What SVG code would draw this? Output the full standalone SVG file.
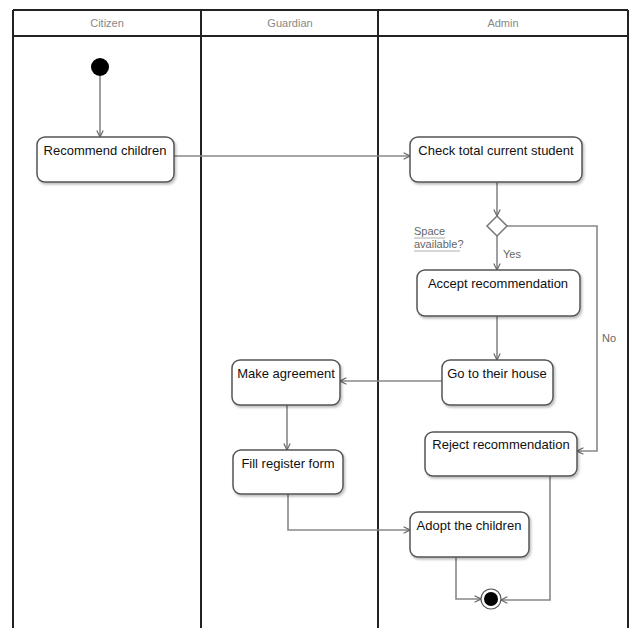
<svg xmlns="http://www.w3.org/2000/svg" width="640" height="640" viewBox="0 0 640 640">
  <style>
    .lane { stroke: #222; stroke-width: 2; fill: none; }
    .head { font-family: "Liberation Sans", Arial, sans-serif; font-size: 11px; fill: #888; text-anchor: middle; }
    .act rect { fill: #fff; stroke: #555; stroke-width: 1.5; }
    .act text { font-family: "Liberation Sans", Arial, sans-serif; font-size: 13px; fill: #111; text-anchor: middle; }
    .edge { stroke: #888; stroke-width: 1.6; fill: none; marker-end: url(#arr); }
    .lbl { font-family: "Liberation Sans", Arial, sans-serif; font-size: 11px; fill: #666; }
  </style>
  <defs>
    <marker id="arr" viewBox="0 0 10 10" refX="9" refY="5" markerWidth="8" markerHeight="8" markerUnits="userSpaceOnUse" orient="auto">
      <path d="M1,1 L9,5 L1,9" fill="none" stroke="#666" stroke-width="1.5"/>
    </marker>
    <filter id="sh" x="-10%" y="-10%" width="125%" height="130%">
      <feDropShadow dx="1.5" dy="2" stdDeviation="1" flood-color="#000" flood-opacity="0.25"/>
    </filter>
  </defs>
  <rect width="640" height="640" fill="#fff"/>

  <!-- swimlanes -->
  <g id="lanes">
    <path class="lane" d="M13,10 H628 M13,36 H628 M13,10 V628 M201,10 V628 M378,10 V628 M628,10 V628"/>
    <text class="head" x="107" y="27">Citizen</text>
    <text class="head" x="290" y="27">Guardian</text>
    <text class="head" x="503" y="27">Admin</text>
  </g>

  <!-- connectors -->
  <g id="connectors">
    <path class="edge" d="M100,76 V137"/>
    <path class="edge" d="M174,156 H410"/>
    <path class="edge" d="M497,182 V216"/>
    <path class="edge" d="M497,236 V270"/>
    <path class="edge" d="M497,316 V360"/>
    <path class="edge" d="M442,381 H340"/>
    <path class="edge" d="M287,405 V450"/>
    <path class="edge" d="M288,494 V530 H410"/>
    <path class="edge" d="M456,557 V599 H481"/>
    <path class="edge" d="M506,226 H597 V451 H577"/>
    <path class="edge" d="M550,476 V600 H501"/>
    <text class="lbl" x="414" y="235">Space</text>
    <text class="lbl" x="414" y="248">available?</text>
    <path d="M414,238 H445 M414,251 H460" stroke="#999" stroke-width="0.8"/>
    <text class="lbl" x="503" y="258">Yes</text>
    <text class="lbl" x="602" y="342">No</text>
  </g>

  <!-- start -->
  <g id="start">
    <circle cx="100" cy="67" r="9" fill="#000"/>
  </g>

  <g id="recommend" class="act">
    <rect x="37" y="137" width="137" height="45" rx="8" filter="url(#sh)"/>
    <text x="105" y="155">Recommend children</text>
  </g>

  <g id="check" class="act">
    <rect x="410" y="137" width="172" height="45" rx="8" filter="url(#sh)"/>
    <text x="496" y="155">Check total current student</text>
  </g>

  <g id="decision">
    <polygon points="497,216 507,226 497,236 487,226" fill="#fff" stroke="#777" stroke-width="1.5"/>
  </g>

  <g id="accept" class="act">
    <rect x="417" y="270" width="163" height="46" rx="8" filter="url(#sh)"/>
    <text x="498" y="288">Accept recommendation</text>
  </g>

  <g id="gohouse" class="act">
    <rect x="442" y="360" width="111" height="45" rx="8" filter="url(#sh)"/>
    <text x="497" y="378">Go to their house</text>
  </g>

  <g id="agreement" class="act">
    <rect x="232" y="360" width="108" height="45" rx="8" filter="url(#sh)"/>
    <text x="286" y="378">Make agreement</text>
  </g>

  <g id="register" class="act">
    <rect x="233" y="450" width="110" height="44" rx="8" filter="url(#sh)"/>
    <text x="288" y="468">Fill register form</text>
  </g>

  <g id="reject" class="act">
    <rect x="425" y="432" width="152" height="44" rx="8" filter="url(#sh)"/>
    <text x="501" y="449">Reject recommendation</text>
  </g>

  <g id="adopt" class="act">
    <rect x="410" y="512" width="119" height="45" rx="8" filter="url(#sh)"/>
    <text x="469" y="530">Adopt the children</text>
  </g>

  <!-- end -->
  <g id="end">
    <circle cx="491" cy="599" r="10" fill="#fff" stroke="#555" stroke-width="1.2"/>
    <circle cx="491" cy="599" r="7" fill="#000"/>
  </g>
</svg>
